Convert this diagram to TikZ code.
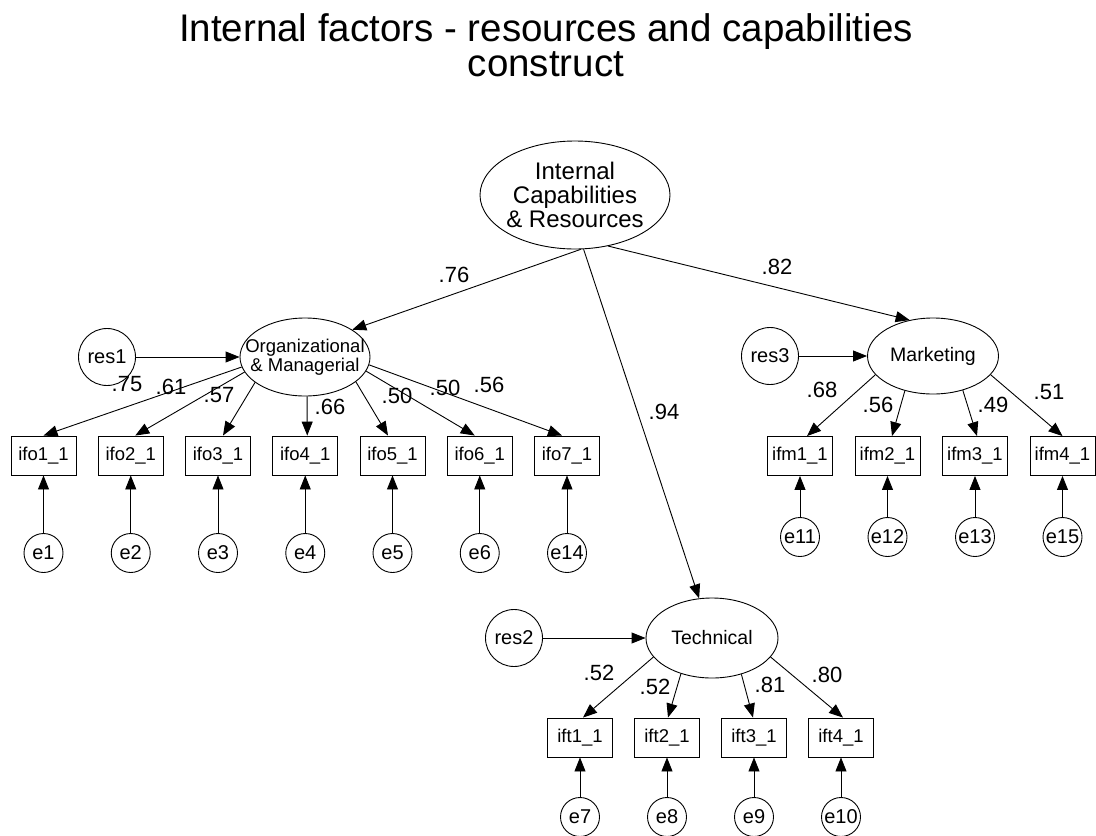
\documentclass[tikz,border=0pt]{standalone}
\usepackage{fontspec}
\setmainfont{Liberation Sans}
\usetikzlibrary{shapes.geometric,arrows.meta}

\begin{document}
\begin{tikzpicture}[x=1pt,y=-1pt,
  every node/.style={inner sep=0pt},
  latent/.style={ellipse,draw,line width=0.9pt},
  resid/.style={circle,draw,line width=0.9pt,minimum size=57pt,font=\fontsize{20}{22}\selectfont},
  err/.style={circle,draw,line width=0.9pt,minimum size=39pt,font=\fontsize{20}{22}\selectfont},
  obs/.style={rectangle,draw,line width=0.9pt,minimum width=65pt,minimum height=39pt,font=\fontsize{18.5}{20}\selectfont},
  coef/.style={font=\fontsize{22}{24}\selectfont},
  arr/.style={-{Triangle[length=14pt,width=11pt]},line width=0.9pt}
]
\useasboundingbox (0,0) rectangle (1096,836);

% title
\node[anchor=north,align=center,font=\fontsize{38.5}{35}\selectfont] (title) at (546,13)
  {Internal factors - resources and capabilities\\construct};

% latent variables
\node[latent,minimum width=190pt,minimum height=108pt,
  label={[align=center,font=\fontsize{24}{24}\selectfont]center:{Internal\\Capabilities\\\& Resources}}]
  (icr) at (575,195) {};
\node[latent,minimum width=130pt,minimum height=78pt,
  label={[align=center,font=\fontsize{18.5}{19}\selectfont]center:{Organizational\\\& Managerial}}]
  (org) at (305,357) {};
\node[latent,minimum width=131pt,minimum height=76pt,
  label={[font=\fontsize{19.5}{21}\selectfont]center:{Marketing}}]
  (mkt) at (933,356) {};
\node[latent,minimum width=132pt,minimum height=80pt,
  label={[font=\fontsize{19.5}{21}\selectfont]center:{Technical}}]
  (tech) at (712,638) {};

% residuals of the first-order factors
\node[resid] (res1) at (107,357) {res1};
\node[resid] (res3) at (770,356) {res3};
\node[resid] (res2) at (514,638) {res2};
\draw[arr] (res1) -- (org);
\draw[arr] (res3) -- (mkt);
\draw[arr] (res2) -- (tech);

% second-order loadings
\draw[arr] (icr.276) -- (org.30);
\draw[arr] (icr.279) -- (tech.108);
\draw[arr] (icr.303) -- (mkt.123);
\node[coef] (c76) at (454,275) {.76};
\node[coef] (c82) at (777,267) {.82};
\node[coef] (c94) at (664,412) {.94};

% organizational & managerial indicators
\foreach \n/\x/\e in {1/43.5/e1,2/130.75/e2,3/218/e3,4/305.25/e4,5/392.5/e5,6/479.75/e6,7/567/e14}{
  \node[obs] (ifo\n) at (\x,455.5) {ifo\n\_1};
  \node[err] (ifoe\n) at (\x,553) {\e};
  \draw[arr] (ifoe\n) -- (ifo\n);
}
\foreach \n/\a/\s in {1/189/0,2/194/4.5,3/207/5,4/273/2,5/334/-4.5,6/347/-5,7/353/-5}{
  \draw[arr] (org.\a) -- ([xshift=\s pt]ifo\n.north);
}
\node[coef] (o1) at (127,384) {.75};
\node[coef] (o2) at (171,387) {.61};
\node[coef] (o3) at (219,395) {.57};
\node[coef] (o4) at (330,407) {.66};
\node[coef] (o5) at (397,396) {.50};
\node[coef] (o6) at (445,388) {.50};
\node[coef] (o7) at (489,385) {.56};

% marketing indicators
\foreach \n/\x/\e in {1/800/e11,2/887.5/e12,3/975/e13,4/1062.5/e15}{
  \node[obs] (ifm\n) at (\x,456) {ifm\n\_1};
  \node[err] (ifme\n) at (\x,537) {\e};
  \draw[arr] (ifme\n) -- (ifm\n);
}
\foreach \n/\a/\s in {1/198/7,2/231/4.5,3/311/2,4/342/0}{
  \draw[arr] (mkt.\a) -- ([xshift=\s pt]ifm\n.north);
}
\node[coef] (m1) at (822,390) {.68};
\node[coef] (m2) at (878,405) {.56};
\node[coef] (m3) at (993,405) {.49};
\node[coef] (m4) at (1049,392) {.51};

% technical indicators
\foreach \n/\x/\e in {1/580/e7,2/667/e8,3/754/e9,4/841/e10}{
  \node[obs] (ift\n) at (\x,737.5) {ift\n\_1};
  \node[err] (ifte\n) at (\x,817) {\e};
  \draw[arr] (ifte\n) -- (ift\n);
}
\foreach \n/\a/\s in {1/198/3,2/229/1,3/309/-1,4/342/2}{
  \draw[arr] (tech.\a) -- ([xshift=\s pt]ift\n.north);
}
\node[coef] (t1) at (599,673) {.52};
\node[coef] (t2) at (655,687) {.52};
\node[coef] (t3) at (770,685) {.81};
\node[coef] (t4) at (827,675) {.80};
\end{tikzpicture}
\end{document}
